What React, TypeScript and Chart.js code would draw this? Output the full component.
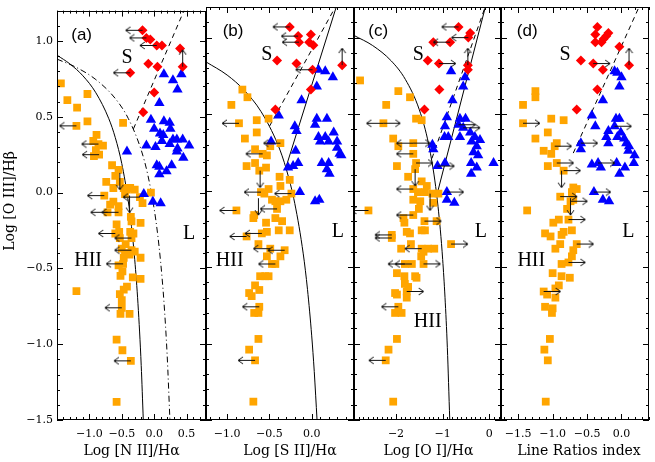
import { useEffect, useRef } from 'react';
import { Chart, registerables } from 'chart.js';

Chart.register(...registerables);

type P = [number, number];
type Note = [string, number, number];

// ---------------- shared axis data ----------------
const Y_MIN = -1.5;
const Y_MAX = 1.2;
const yTickValues = [-1.5, -1.0, -0.5, 0.0, 0.5, 1.0];
const yTitle = 'Log [O III]/H\u03B2';

// ---------------- panel (a) : [N II]/Ha ----------------
const aXRange: P = [-1.5, 0.8];
const aXTicks = [-1.0, -0.5, 0.0, 0.5];
const aXTitle = 'Log [N II]/H\u03B1';
const aHII: P[] = [[-1.44,0.72],[-1.34,0.61],[-1.19,0.56],[-1.03,0.65],[-1.03,0.47],[-1.20,0.44],[-0.48,0.46],[-0.89,0.38],[-0.94,0.34],[-0.86,0.32],[-0.79,0.31],[-0.90,0.28],[-0.85,0.25],[-0.93,0.24],[-0.65,0.18],[-0.74,0.07],[-0.60,0.11],[-0.55,0.15],[-0.53,0.07],[-0.63,0.03],[-0.47,0.03],[-0.42,0.02],[-0.37,0.03],[-0.30,0.02],[-0.77,-0.02],[-0.45,-0.01],[-0.22,-0.03],[-0.05,0.00],[-0.18,-0.07],[-0.63,-0.06],[-0.68,-0.08],[-0.55,-0.09],[-0.72,-0.13],[-0.55,-0.13],[-0.36,-0.16],[-0.35,-0.19],[-0.21,-0.20],[-0.58,-0.21],[-0.60,-0.27],[-0.54,-0.26],[-0.37,-0.26],[-0.32,-0.27],[-0.35,-0.30],[-0.53,-0.30],[-0.44,-0.34],[-0.50,-0.37],[-0.35,-0.38],[-0.30,-0.39],[-0.45,-0.40],[-0.38,-0.41],[-0.21,-0.43],[-0.47,-0.43],[-0.48,-0.47],[-0.55,-0.48],[-0.49,-0.52],[-0.52,-0.55],[-0.33,-0.56],[-0.21,-0.57],[-0.42,-0.62],[-0.47,-0.64],[-0.53,-0.67],[-0.50,-0.71],[-1.20,-0.65],[-0.50,-0.76],[-0.52,-0.80],[-0.38,-0.80],[-0.58,-0.97],[-0.49,-1.04],[-0.36,-1.11],[-0.58,-1.38]];
const aLINER: P[] = [[0.15,0.78],[0.29,0.74],[0.42,0.78],[0.36,0.68],[0.08,0.59],[-0.05,0.48],[0.15,0.47],[0.24,0.46],[0.25,0.42],[0.00,0.42],[0.09,0.39],[0.14,0.38],[0.35,0.35],[0.44,0.35],[0.29,0.35],[0.12,0.34],[0.24,0.32],[-0.12,0.31],[0.02,0.30],[0.54,0.31],[0.36,0.29],[-0.42,0.27],[0.45,0.23],[0.35,0.27],[0.04,0.18],[0.08,0.17],[0.27,0.18],[0.19,0.14],[0.08,0.12],[-0.16,-0.01],[-0.02,-0.06],[0.10,-0.07]];
const aSey: P[] = [[-0.18,1.07],[-0.12,1.02],[-0.06,1.01],[0.04,0.97],[0.12,0.97],[0.40,0.95],[0.44,0.83],[-0.09,0.85],[0.05,0.83],[-0.37,0.79],[0.00,0.66],[-0.17,0.53]];
const aArrowLeft: P[] = [[-1.20,0.44],[-0.86,0.32],[-0.85,0.25],[-0.77,-0.02],[-0.22,-0.03],[-0.72,-0.13],[-0.55,-0.13],[-0.60,-0.27],[-0.35,-0.30],[-0.35,-0.38],[-0.48,-0.47],[-0.50,-0.76],[-0.36,-1.11],[-0.18,1.07],[-0.12,1.02],[0.04,0.97],[-0.37,0.79]];
const aArrowRight: P[] = [];
const aArrowUp: P[] = [[0.44,0.83]];
const aArrowDown: P[] = [[-0.53,0.13],[-0.38,-0.02]];
const aKauffmann: P[] = [[-1.5,0.906],[-1.3,0.848],[-1.1,0.770],[-0.9,0.658],[-0.7,0.487],[-0.6,0.362],[-0.5,0.191],[-0.4,-0.056],[-0.35,-0.225],[-0.3,-0.443],[-0.25,-0.733],[-0.2,-1.14],[-0.168,-1.5]];
const aKewley: P[] = [[-1.5,0.880],[-1.2,0.825],[-0.9,0.745],[-0.6,0.620],[-0.4,0.489],[-0.2,0.280],[-0.1,0.120],[0.0,-0.108],[0.05,-0.262],[0.1,-0.459],[0.15,-0.716],[0.2,-1.069],[0.243,-1.5]];
const aDashed: P[] = [[-0.32,0.42],[0.46,1.2]];
const aNotes: Note[] = [['S',-0.42,0.89],['L',0.54,-0.27],['HII',-1.02,-0.45]];
const aPanelTag: Note = ['(a)',-1.12,1.04];

// ---------------- panel (b) : [S II]/Ha ----------------
const bXRange: P = [-1.25, 0.5];
const bXTicks = [-1.0, -0.5, 0.0];
const bXTitle = 'Log [S II]/H\u03B1';
const bHII: P[] = [[-0.82,0.66],[-0.76,0.61],[-0.95,0.56],[-0.65,0.46],[-0.51,0.47],[-0.86,0.44],[-0.65,0.38],[-0.79,0.34],[-0.37,0.31],[-0.49,0.29],[-0.67,0.27],[-0.58,0.24],[-0.53,0.23],[-0.77,0.16],[-0.67,0.18],[-0.62,0.13],[-0.54,0.15],[-0.38,0.09],[-0.26,0.07],[-0.37,0.03],[-0.60,-0.01],[-0.51,0.01],[-0.56,-0.02],[-0.24,-0.02],[-0.47,-0.06],[-0.43,-0.07],[-0.37,-0.07],[-0.30,-0.06],[-0.89,-0.13],[-0.41,-0.12],[-0.68,-0.16],[-0.69,-0.18],[-0.43,-0.18],[-0.35,-0.20],[-0.54,-0.21],[-0.39,-0.26],[-0.26,-0.26],[-0.53,-0.27],[-0.59,-0.28],[-0.77,-0.30],[-0.63,-0.35],[-0.49,-0.38],[-0.32,-0.39],[-0.53,-0.43],[-0.37,-0.43],[-0.43,-0.48],[-0.47,-0.48],[-0.55,-0.56],[-0.61,-0.56],[-0.51,-0.56],[-0.67,-0.62],[-0.62,-0.65],[-0.74,-0.67],[-0.71,-0.69],[-0.62,-0.76],[-0.68,-0.80],[-0.63,-0.80],[-0.63,-0.97],[-0.74,-1.04],[-0.67,-1.11],[-0.69,-1.38]];
const bLINER: P[] = [[0.08,0.79],[0.16,0.78],[0.25,0.74],[0.06,0.68],[-0.12,0.59],[-0.39,0.49],[0.06,0.47],[0.18,0.47],[0.04,0.43],[-0.20,0.42],[-0.18,0.39],[0.26,0.38],[0.08,0.35],[0.16,0.35],[0.20,0.32],[0.10,0.32],[0.30,0.32],[-0.48,0.32],[-0.19,0.26],[0.33,0.24],[0.30,0.28],[0.35,0.23],[-0.16,0.18],[-0.22,0.16],[-0.28,0.15],[0.12,0.18],[0.20,0.18],[0.18,0.14],[0.21,0.11],[-0.14,-0.01],[0.04,-0.07],[0.09,-0.06]];
const bSey: P[] = [[-0.26,1.07],[-0.16,1.01],[-0.15,0.97],[-0.01,1.02],[-0.03,0.97],[0.02,0.95],[-0.41,0.85],[-0.18,0.83],[0.01,0.79],[0.36,0.82],[-0.01,0.66],[-0.43,0.53]];
const bArrowLeft: P[] = [[-0.86,0.44],[-0.37,0.31],[-0.58,0.24],[-0.60,-0.01],[-0.24,-0.02],[-0.89,-0.13],[-0.41,-0.12],[-0.59,-0.28],[-0.77,-0.30],[-0.49,-0.38],[-0.32,-0.39],[-0.43,-0.48],[-0.62,-0.76],[-0.67,-1.11],[-0.26,1.07],[-0.16,1.01],[-0.15,0.97],[0.01,0.79]];
const bArrowRight: P[] = [];
const bArrowUp: P[] = [[0.36,0.82]];
const bArrowDown: P[] = [[-0.61,0.13],[-0.63,-0.05]];
const bKewley: P[] = [[-1.25,0.841],[-1.0,0.755],[-0.8,0.657],[-0.6,0.517],[-0.4,0.300],[-0.3,0.139],[-0.2,-0.085],[-0.1,-0.414],[-0.05,-0.646],[0.0,-0.95],[0.03,-1.183],[0.063,-1.5]];
const bSeyLiner: P[] = [[-0.30,0.16],[0.29,1.2]];
const bDashed: P[] = [[-0.50,0.42],[0.28,1.2]];
const bNotes: Note[] = [['S',-0.53,0.89],['L',0.31,-0.27],['HII',-0.97,-0.46]];
const bPanelTag: Note = ['(b)',-0.93,1.04];

// ---------------- panel (c) : [O I]/Ha ----------------
const cXRange: P = [-2.9, 0.25];
const cXTicks = [-2, -1, 0];
const cXTitle = 'Log [O I]/H\u03B1';
const cHII: P[] = [[-2.77,0.72],[-1.95,0.65],[-2.21,0.56],[-1.70,0.61],[-1.57,0.47],[-1.45,0.46],[-2.27,0.44],[-2.06,0.34],[-1.63,0.31],[-1.95,0.29],[-1.63,0.24],[-1.98,0.16],[-1.57,0.18],[-1.59,0.14],[-1.74,0.09],[-1.45,0.06],[-1.34,0.03],[-1.63,0.01],[-1.53,-0.01],[-1.38,-0.01],[-1.22,-0.02],[-1.09,-0.02],[-1.63,-0.06],[-1.48,-0.07],[-1.20,-0.08],[-1.51,-0.12],[-1.63,-0.16],[-2.59,-0.13],[-1.84,-0.18],[-1.82,-0.21],[-1.39,-0.20],[-1.13,-0.20],[-1.77,-0.27],[-1.70,-0.28],[-1.45,-0.26],[-1.38,-0.26],[-2.09,-0.29],[-2.09,-0.31],[-1.68,-0.35],[-1.89,-0.38],[-1.45,-0.38],[-1.31,-0.38],[-1.18,-0.38],[-0.82,-0.35],[-1.46,-0.43],[-1.41,-0.40],[-1.81,-0.48],[-1.66,-0.48],[-1.41,-0.48],[-1.98,-0.54],[-1.82,-0.56],[-1.59,-0.56],[-1.56,-0.57],[-1.81,-0.61],[-1.74,-0.63],[-2.02,-0.67],[-1.77,-0.66],[-1.98,-0.68],[-1.77,-0.70],[-1.95,-0.76],[-2.02,-0.80],[-1.88,-0.80],[-1.98,-0.97],[-2.16,-1.04],[-2.22,-1.11],[-2.06,-1.38]];
const cLINER: P[] = [[-0.82,0.78],[-0.52,0.74],[-0.56,0.68],[-0.79,0.59],[-0.91,0.48],[-0.63,0.47],[-0.51,0.47],[-0.66,0.43],[-0.56,0.41],[-0.95,0.42],[-0.41,0.38],[-0.96,0.35],[-0.63,0.35],[-0.31,0.35],[-0.20,0.33],[-0.38,0.32],[-0.88,0.35],[-1.22,0.30],[-1.20,0.27],[-0.27,0.29],[-0.34,0.25],[-0.24,0.23],[-0.95,0.18],[-1.11,0.16],[-0.39,0.18],[-0.27,0.15],[-0.39,0.11],[0.09,0.18],[-0.91,-0.01],[-0.91,-0.06],[-0.75,-0.08]];
const cSey: P[] = [[-0.66,1.07],[-0.45,1.00],[-0.41,1.03],[-1.20,0.97],[-0.84,0.97],[-1.32,0.85],[-1.08,0.83],[-0.46,0.82],[-0.46,0.79],[-1.07,0.66],[-1.39,0.53]];
const cArrowLeft: P[] = [[-2.27,0.44],[-1.63,0.31],[-1.63,0.24],[-1.63,0.01],[-1.63,-0.16],[-2.59,-0.13],[-2.09,-0.29],[-2.09,-0.31],[-1.45,-0.38],[-1.81,-0.48],[-1.66,-0.48],[-1.95,-0.76],[-2.22,-1.11],[-0.66,1.07],[-0.45,1.00],[-0.84,0.97]];
const cArrowRight: P[] = [[-2.27,0.44],[-1.63,0.31],[-1.57,0.18],[-1.39,-0.20],[-0.82,-0.35],[-1.41,-0.48],[-1.77,-0.66],[-1.08,0.83],[-0.66,0.43],[-0.56,0.41],[-1.11,0.16],[-0.91,-0.01]];
const cArrowUp: P[] = [[-0.46,0.82]];
const cArrowDown: P[] = [[-1.59,0.14],[-1.27,-0.02]];
const cKewley: P[] = [[-2.9,1.014],[-2.5,0.948],[-2.1,0.847],[-1.8,0.727],[-1.5,0.528],[-1.3,0.302],[-1.15,0.026],[-1.05,-0.257],[-1.0,-0.450],[-0.95,-0.698],[-0.9,-1.025],[-0.848,-1.5]];
const cSeyLiner: P[] = [[-1.125,-0.03],[-0.085,1.2]];
const cDashed: P[] = [[-1.23,0.21],[-0.09,1.2]];
const cNotes: Note[] = [['S',-1.52,0.89],['L',-0.18,-0.27],['HII',-1.32,-0.86]];
const cPanelTag: Note = ['(c)',-2.38,1.04];

// ---------------- panel (d) : line ratios index ----------------
const dXRange: P = [-1.75, 0.4];
const dXTicks = [-1.5, -1.0, -0.5, 0.0];
const dXTitle = 'Line Ratios index';
const dHII: P[] = [[-1.43,0.56],[-1.25,0.65],[-1.25,0.61],[-1.43,0.44],[-1.02,0.47],[-0.84,0.46],[-1.07,0.38],[-1.25,0.34],[-0.97,0.29],[-1.13,0.26],[-1.02,0.24],[-0.94,0.31],[-1.07,0.16],[-0.94,0.18],[-0.84,0.13],[-0.70,0.02],[-0.72,-0.01],[-0.65,0.01],[-0.89,-0.04],[-0.70,-0.06],[-0.74,-0.07],[-0.79,-0.12],[-1.37,-0.13],[-0.77,-0.19],[-0.91,-0.19],[-0.99,-0.21],[-1.11,-0.28],[-0.84,-0.27],[-0.72,-0.26],[-1.03,-0.30],[-0.87,-0.29],[-0.65,-0.35],[-0.89,-0.35],[-0.96,-0.38],[-0.70,-0.39],[-0.72,-0.43],[-0.77,-0.47],[-0.87,-0.48],[-1.00,-0.54],[-0.87,-0.56],[-0.75,-0.57],[-0.91,-0.62],[-0.96,-0.64],[-1.13,-0.66],[-1.08,-0.68],[-0.96,-0.70],[-1.11,-0.76],[-1.00,-0.77],[-1.01,-0.80],[-1.04,-0.97],[-1.12,-1.04],[-1.07,-1.11],[-1.10,-1.38]];
const dLINER: P[] = [[-0.10,0.78],[-0.06,0.77],[0.00,0.74],[-0.03,0.68],[-0.27,0.59],[-0.43,0.49],[-0.08,0.47],[-0.03,0.47],[-0.38,0.42],[-0.10,0.42],[-0.19,0.39],[-0.01,0.38],[-0.22,0.35],[-0.06,0.35],[0.04,0.34],[0.07,0.31],[-0.59,0.31],[-0.19,0.31],[-0.59,0.27],[0.11,0.29],[0.10,0.26],[0.19,0.23],[-0.43,0.17],[-0.34,0.18],[-0.30,0.15],[-0.07,0.18],[0.05,0.15],[-0.03,0.11],[0.18,0.18],[-0.40,-0.01],[-0.27,-0.06],[-0.18,-0.07]];
const dSey: P[] = [[-0.35,1.07],[-0.38,1.02],[-0.19,1.03],[-0.22,1.01],[-0.26,0.99],[-0.38,0.97],[-0.29,0.97],[-0.03,0.94],[-0.59,0.85],[-0.41,0.83],[0.11,0.82],[-0.27,0.79],[-0.35,0.66],[-0.65,0.53]];
const dArrowLeft: P[] = [];
const dArrowRight: P[] = [[-1.43,0.44],[-0.97,0.29],[-0.94,0.18],[-0.84,0.13],[-0.89,-0.04],[-0.74,-0.07],[-0.77,-0.19],[-0.65,-0.35],[-0.77,-0.47],[-1.13,-0.66],[-0.10,0.42],[-0.59,0.31],[-0.34,0.18],[-0.40,-0.01],[-0.41,0.83]];
const dArrowUp: P[] = [[0.11,0.82]];
const dArrowDown: P[] = [[-0.87,0.13],[-0.74,-0.05]];
const dDashed: P[] = [[-0.70,0.245],[0.255,1.2]];
const dNotes: Note[] = [['S',-0.82,0.89],['L',0.10,-0.27],['HII',-1.31,-0.46]];
const dPanelTag: Note = ['(d)',-1.37,1.04];

// ---------------- layout / style ----------------
const W = 655;
const H = 462;
const EDGES = [57, 206, 354, 501, 651];
const PLOT_TOP = 7;
const X_AXIS_H = 42;
const SERIF = "'DejaVu Serif', serif";
const TIMES = "'Liberation Serif', 'Times New Roman', serif";
const SANS = "'Liberation Sans', Arial, sans-serif";
const ORANGE = '#ffa500';
const BLUE = '#0000ff';
const RED = '#ff0000';
const ARROW_LEN = 17;

interface Curve { data: P[]; dash: number[] }
interface Panel {
  xRange: P; xTicks: number[]; dec: number; title: string; titleDx: number;
  hii: P[]; liner: P[]; sey: P[];
  left: P[]; right: P[]; up: P[]; down: P[];
  curves: Curve[]; notes: Note[]; tag: Note;
}

const PANELS: Panel[] = [
  { xRange: aXRange, xTicks: aXTicks, dec: 1, title: aXTitle, titleDx: 0, hii: aHII, liner: aLINER, sey: aSey,
    left: aArrowLeft, right: aArrowRight, up: aArrowUp, down: aArrowDown,
    curves: [{ data: aKauffmann, dash: [] }, { data: aKewley, dash: [6, 3, 1, 3] }, { data: aDashed, dash: [5, 4] }],
    notes: aNotes, tag: aPanelTag },
  { xRange: bXRange, xTicks: bXTicks, dec: 1, title: bXTitle, titleDx: 10, hii: bHII, liner: bLINER, sey: bSey,
    left: bArrowLeft, right: bArrowRight, up: bArrowUp, down: bArrowDown,
    curves: [{ data: bKewley, dash: [] }, { data: bSeyLiner, dash: [] }, { data: bDashed, dash: [5, 4] }],
    notes: bNotes, tag: bPanelTag },
  { xRange: cXRange, xTicks: cXTicks, dec: 0, title: cXTitle, titleDx: 1, hii: cHII, liner: cLINER, sey: cSey,
    left: cArrowLeft, right: cArrowRight, up: cArrowUp, down: cArrowDown,
    curves: [{ data: cKewley, dash: [] }, { data: cSeyLiner, dash: [] }, { data: cDashed, dash: [5, 4] }],
    notes: cNotes, tag: cPanelTag },
  { xRange: dXRange, xTicks: dXTicks, dec: 1, title: dXTitle, titleDx: 4, hii: dHII, liner: dLINER, sey: dSey,
    left: dArrowLeft, right: dArrowRight, up: dArrowUp, down: dArrowDown,
    curves: [{ data: dDashed, dash: [5, 4] }],
    notes: dNotes, tag: dPanelTag },
];

const fmt = (v: number, d: number) => (v < -1e-9 ? '\u2212' : '') + Math.abs(v).toFixed(d);
const xy = (arr: P[]) => arr.map(([x, y]) => ({ x, y }));

function makeArrow(): HTMLCanvasElement {
  const c = document.createElement('canvas');
  c.width = ARROW_LEN * 2 + 2;
  c.height = 9;
  const g = c.getContext('2d')!;
  const cx = ARROW_LEN + 1;
  const cy = 4.5;
  g.strokeStyle = '#111';
  g.lineWidth = 1;
  g.beginPath();
  g.moveTo(cx, cy);
  g.lineTo(1, cy);
  g.moveTo(6, 1);
  g.lineTo(1, cy);
  g.lineTo(6, 8);
  g.stroke();
  return c;
}

function framePlugin(p: Panel, idx: number) {
  return {
    id: 'frame' + idx,
    afterDatasetsDraw(chart: any) {
      const { ctx, chartArea } = chart;
      const xs = chart.scales.x;
      const ys = chart.scales.y;
      ctx.save();
      ctx.fillStyle = '#000';
      ctx.textAlign = 'center';
      ctx.textBaseline = 'middle';
      ctx.font = `17px ${SANS}`;
      ctx.fillText(p.tag[0], xs.getPixelForValue(p.tag[1]), ys.getPixelForValue(p.tag[2]));
      ctx.font = `20px ${TIMES}`;
      for (const [t, x, y] of p.notes) ctx.fillText(t, xs.getPixelForValue(x), ys.getPixelForValue(y));
      ctx.restore();
    },
    afterDraw(chart: any) {
      const { ctx, chartArea } = chart;
      const { left, right, top, bottom } = chartArea;
      const xs = chart.scales.x;
      const ys = chart.scales.y;
      ctx.save();
      ctx.strokeStyle = '#000';
      ctx.lineWidth = 1;
      ctx.strokeRect(Math.round(left) + 0.5, Math.round(top) + 0.5, Math.round(right - left) - 1, Math.round(bottom - top) - 1);
      ctx.beginPath();
      const isMajor = (v: number, list: number[]) => list.some((m) => Math.abs(m - v) < 1e-6);
      const start = Math.ceil(xs.min * 10 - 1e-6);
      for (let k = start; k / 10 <= xs.max + 1e-9; k++) {
        const v = k / 10;
        const px = Math.round(xs.getPixelForValue(v)) + 0.5;
        const len = isMajor(v, p.xTicks) ? 6 : 3;
        ctx.moveTo(px, bottom); ctx.lineTo(px, bottom - len);
        ctx.moveTo(px, top); ctx.lineTo(px, top + len);
      }
      const ys0 = Math.ceil(ys.min * 10 - 1e-6);
      for (let k = ys0; k / 10 <= ys.max + 1e-9; k++) {
        const v = k / 10;
        const py = Math.round(ys.getPixelForValue(v)) + 0.5;
        const len = isMajor(v, yTickValues) ? 6 : 3;
        ctx.moveTo(left, py); ctx.lineTo(left + len, py);
        ctx.moveTo(right, py); ctx.lineTo(right - len, py);
      }
      ctx.stroke();
      // axis titles
      ctx.fillStyle = '#000';
      ctx.font = `14px ${SERIF}`;
      ctx.textAlign = 'center';
      ctx.textBaseline = 'alphabetic';
      ctx.fillText(p.title, (left + right) / 2 + p.titleDx, 455);
      if (idx === 0) {
        ctx.translate(13.5, 201);
        ctx.rotate(-Math.PI / 2);
        ctx.fillText(yTitle, 0, 0);
      }
      ctx.restore();
    },
  };
}

function buildConfig(p: Panel, i: number, arrow: HTMLCanvasElement): any {
  const first = i === 0;
  const arrowDS = (data: P[], rot: number) => ({
    data: xy(data), pointStyle: arrow, pointRotation: rot, pointRadius: 1, showLine: false,
  });
  const markDS = (data: P[], style: string, r: number, color: string) => ({
    data: xy(data), pointStyle: style, pointRadius: r, pointBackgroundColor: color,
    pointBorderWidth: 0, backgroundColor: color, borderColor: color, showLine: false,
  });
  const curveDS = (c: Curve) => ({
    data: xy(c.data), showLine: true, pointRadius: 0, borderColor: '#000', borderWidth: 1,
    borderDash: c.dash, cubicInterpolationMode: 'monotone', fill: false,
  });
  return {
    type: 'scatter',
    data: {
      datasets: [
        arrowDS(p.left, 0), arrowDS(p.right, 180), arrowDS(p.up, 90), arrowDS(p.down, 270),
        markDS(p.sey, 'rectRot', 5, RED),
        markDS(p.liner, 'triangle', 6, BLUE),
        markDS(p.hii, 'rect', 5.5, ORANGE),
        ...p.curves.map(curveDS),
      ],
    },
    options: {
      responsive: false,
      animation: false,
      devicePixelRatio: 1,
      events: [],
      layout: { padding: { left: first ? 0 : EDGES[i], right: W - EDGES[i + 1], top: PLOT_TOP, bottom: 0 } },
      plugins: { legend: { display: false }, tooltip: { enabled: false } },
      scales: {
        x: {
          type: 'linear', min: p.xRange[0], max: p.xRange[1],
          afterBuildTicks: (s: any) => { s.ticks = p.xTicks.map((v) => ({ value: v })); },
          afterFit: (s: any) => { s.height = X_AXIS_H; },
          grid: { display: false, drawTicks: false },
          border: { display: false },
          ticks: {
            font: { family: SERIF, size: 11 }, color: '#000', padding: 8, maxRotation: 0, autoSkip: false,
            callback: (v: any) => fmt(Number(v), p.dec),
          },
        },
        y: {
          type: 'linear', min: Y_MIN, max: Y_MAX, display: first,
          afterBuildTicks: (s: any) => { s.ticks = yTickValues.map((v) => ({ value: v })); },
          afterFit: (s: any) => { s.width = first ? EDGES[0] : 0; },
          grid: { display: false, drawTicks: false },
          border: { display: false },
          ticks: {
            font: { family: SERIF, size: 11 }, color: '#000', padding: 4, autoSkip: false,
            callback: (v: any) => fmt(Number(v), 1),
          },
        },
      },
    },
    plugins: [framePlugin(p, i)],
  };
}

export default function App() {
  const refs = useRef<(HTMLCanvasElement | null)[]>([]);
  useEffect(() => {
    const arrow = makeArrow();
    const charts = PANELS.map((p, i) => new Chart(refs.current[i]!, buildConfig(p, i, arrow)));
    return () => charts.forEach((c) => c.destroy());
  }, []);
  return (
    <div style={{ position: 'absolute', left: 0, top: 0, width: W, height: H, background: '#fff' }}>
      {PANELS.map((_, i) => (
        <canvas
          key={i}
          ref={(el) => { refs.current[i] = el; }}
          width={W}
          height={H}
          style={{ position: 'absolute', left: 0, top: 0 }}
        />
      ))}
    </div>
  );
}
